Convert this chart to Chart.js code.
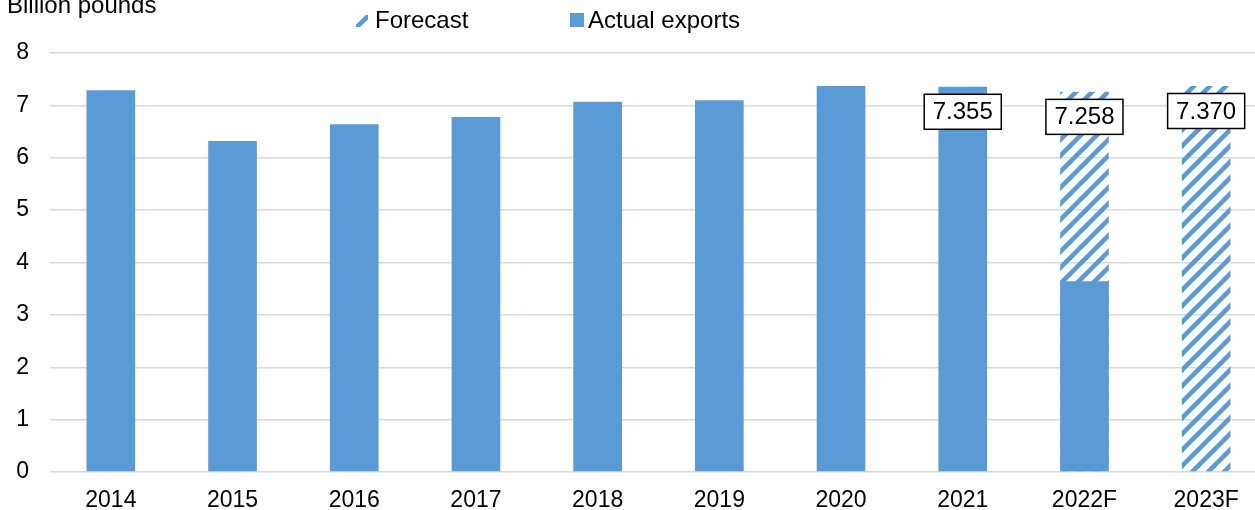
<!DOCTYPE html>
<html>
<head>
<meta charset="utf-8">
<script src="https://cdn.jsdelivr.net/npm/chart.js@4.4.1/dist/chart.umd.min.js"></script>
<style>
  html, body { margin: 0; padding: 0; background: #fff; overflow: hidden; }
  #wrap { position: relative; width: 1267px; height: 510px; }
</style>
</head>
<body>
<div id="wrap"><canvas id="c"></canvas></div>
<script>
// ---- data ----
const categories = ['2014', '2015', '2016', '2017', '2018', '2019', '2020', '2021', '2022F', '2023F'];
const actualExports = [7.29, 6.32, 6.64, 6.78, 7.07, 7.10, 7.37, 7.355, 3.64, 0];
const forecastTotals = [null, null, null, null, null, null, null, null, 7.258, 7.370];
const labelledCategories = ['2021', '2022F', '2023F'];
const yTicks = [0, 1, 2, 3, 4, 5, 6, 7, 8];
const seriesNames = ['Forecast', 'Actual exports'];
const yAxisTitle = 'Billion pounds';

const BLUE = '#5B9BD5';
const FONT = '"Liberation Sans", Arial, sans-serif';

function makeHatch() {
  const s = 16;
  const c = document.createElement('canvas');
  c.width = s; c.height = s;
  const g = c.getContext('2d');
  g.strokeStyle = BLUE;
  g.lineWidth = 4.6;
  for (let k = -1; k <= 1; k++) {
    g.beginPath();
    g.moveTo(k * s - 2, s + 2);
    g.lineTo(k * s + s + 2, -2);
    g.stroke();
  }
  return g.createPattern(c, 'repeat');
}
const ctx = document.getElementById('c').getContext('2d');
const hatch = makeHatch();

const extras = {
  id: 'extras',
  beforeDraw(chart) {
    const g = chart.ctx;
    g.save();
    g.fillStyle = '#fff';
    g.fillRect(0, 0, chart.width, chart.height);
    g.restore();
  },
  afterDatasetsDraw(chart) {
    const g = chart.ctx;
    const fMeta = chart.getDatasetMeta(0);
    const aMeta = chart.getDatasetMeta(1);
    g.save();
    g.font = '24px ' + FONT;
    g.textAlign = 'center';
    g.textBaseline = 'middle';
    labelledCategories.forEach(cat => {
      const i = categories.indexOf(cat);
      const useF = forecastTotals[i] !== null;
      const el = useF ? fMeta.data[i] : aMeta.data[i];
      const v = useF ? forecastTotals[i] : actualExports[i];
      const txt = v.toFixed(3);
      const w = g.measureText(txt).width + 17;
      const h = 35;
      const cx = el.x, cy = el.y + 25;
      g.fillStyle = '#fff';
      g.fillRect(cx - w / 2, cy - h / 2, w, h);
      g.strokeStyle = '#000';
      g.lineWidth = 1.5;
      g.strokeRect(cx - w / 2, cy - h / 2, w, h);
      g.fillStyle = '#000';
      g.fillText(txt, cx, cy + 1);
    });
    g.restore();
  },
  afterDraw(chart) {
    const g = chart.ctx;
    g.save();
    g.font = '24px ' + FONT;
    g.fillStyle = '#000';
    g.textBaseline = 'alphabetic';
    g.textAlign = 'left';
    g.fillText(yAxisTitle, 7, 13);
    // legend
    g.textBaseline = 'middle';
    g.fillStyle = hatch;
    g.fillRect(356, 15, 12, 12);
    g.fillStyle = '#000';
    g.fillText(seriesNames[0], 375, 21);
    g.fillStyle = BLUE;
    g.fillRect(570, 13, 14, 14);
    g.fillStyle = '#000';
    g.fillText(seriesNames[1], 588, 21);
    g.restore();
  }
};

new Chart(ctx, {
  type: 'bar',
  data: {
    labels: categories,
    datasets: [
      { label: seriesNames[0], data: forecastTotals, backgroundColor: hatch, order: 1,
        categoryPercentage: 1, barPercentage: 0.4 },
      { label: seriesNames[1], data: actualExports, backgroundColor: BLUE, order: 0,
        categoryPercentage: 1, barPercentage: 0.4 }
    ]
  },
  options: {
    responsive: true,
    maintainAspectRatio: false,
    animation: false,
    layout: { padding: { top: 53, right: 0, left: 0, bottom: 0 } },
    plugins: { legend: { display: false }, tooltip: { enabled: false } },
    scales: {
      x: {
        stacked: true,
        grid: { display: false, drawTicks: false },
        border: { display: false },
        ticks: { color: '#000', font: { family: FONT, size: 23 }, padding: 15, maxRotation: 0 },
        afterFit(s) { s.height = 38; }
      },
      y: {
        stacked: false,
        min: 0, max: 8,
        afterBuildTicks(s) { s.ticks = yTicks.map(v => ({ value: v })); },
        grid: { color: '#D9D9D9', lineWidth: 1.5, drawTicks: false },
        border: { display: false },
        ticks: { color: '#000', font: { family: FONT, size: 23 }, padding: 21 },
        afterFit(s) { s.width = 50; }
      }
    }
  },
  plugins: [extras]
});
</script>
</body>
</html>
